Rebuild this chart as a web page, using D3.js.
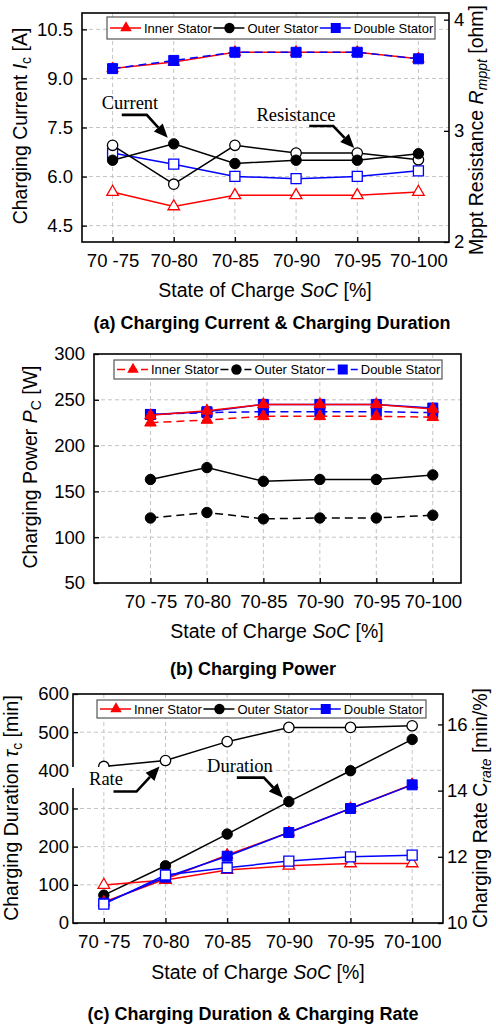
<!DOCTYPE html>
<html>
<head>
<meta charset="utf-8">
<script src="https://cdn.jsdelivr.net/npm/d3@7"></script>
<style>
body { margin: 0; background: #fff; }
text { font-family: "Liberation Sans", Arial, sans-serif; fill: #000; }
.serif { font-family: "Liberation Serif", "Times New Roman", serif; }
</style>
</head>
<body>
<script>
var soc = ["70 -75", "70-80", "70-85", "70-90", "70-95", "70-100"];

// (a) charging current [A] (left) and mppt resistance [ohm] (right)
var currentInner  = [9.3, 9.5, 9.8, 9.8, 9.8, 9.6];
var currentOuter  = [6.5, 7.0, 6.4, 6.5, 6.5, 6.7];
var currentDouble = [9.3, 9.55, 9.8, 9.8, 9.8, 9.6];
var resInner  = [2.45, 2.32, 2.42, 2.42, 2.42, 2.45];
var resOuter  = [2.87, 2.52, 2.87, 2.80, 2.80, 2.74];
var resDouble = [2.80, 2.70, 2.59, 2.57, 2.59, 2.64];

// (b) charging power [W], solid and dashed sets
var powerInnerSolid  = [233, 238, 245, 245, 245, 240];
var powerInnerDash   = [225, 228, 232, 232, 232, 231];
var powerOuterSolid  = [163, 176, 161, 163, 163, 168];
var powerOuterDash   = [121, 127, 120, 121, 121, 124];
var powerDoubleSolid = [234, 237, 245, 245, 245, 241];
var powerDoubleDash  = [234, 236, 237, 237, 237, 236];

// (c) charging duration [min] (left) and charging rate [min/%] (right)
var durInner  = [55, 115, 178, 237, 300, 363];
var durOuter  = [73, 150, 233, 318, 399, 481];
var durDouble = [52, 120, 175, 237, 300, 362];
var rateInner  = [11.15, 11.3, 11.6, 11.73, 11.8, 11.8];
var rateOuter  = [14.73, 14.91, 15.48, 15.91, 15.91, 15.96];
var rateDouble = [10.57, 11.45, 11.67, 11.87, 12.0, 12.05];

var ticksA = [4.5, 6.0, 7.5, 9.0, 10.5], ticksA2 = [2, 3, 4];
var ticksB = [50, 100, 150, 200, 250, 300];
var ticksC = [0, 100, 200, 300, 400, 500, 600], ticksC2 = [10, 12, 14, 16];

var RED = "#ff0000", BLUE = "#0000ff", BLACK = "#000";
var legendNames = ["Inner Stator", "Outer Stator", "Double Stator"];

var svg = d3.select("body").append("svg")
    .attr("width", 496)
    .attr("height", 1027);

function makePanel(box, x, y, yTicks, yFmt, padL) {
    var g = svg.append("g");
    var grid = g.append("g");
    // vertical grid
    grid.selectAll(".vg").data(soc).enter().append("line")
        .attr("x1", d => x(d)).attr("x2", d => x(d))
        .attr("y1", box.top).attr("y2", box.bottom)
        .attr("stroke", "#c4c4c4").attr("stroke-dasharray", "4,3");
    grid.selectAll(".hg").data(yTicks.filter(t => y(t) > box.top + 1 && y(t) < box.bottom - 1))
        .enter().append("line")
        .attr("x1", box.left).attr("x2", box.right)
        .attr("y1", d => y(d)).attr("y2", d => y(d))
        .attr("stroke", "#c4c4c4").attr("stroke-dasharray", "4,3");

    var axes = svg.append("g").attr("class", "axes");
    axes.append("g")
        .attr("transform", "translate(" + box.left + ",0)")
        .call(d3.axisLeft(y).tickValues(yTicks).tickFormat(yFmt).tickSize(-5).tickPadding(padL));
    axes.append("g")
        .attr("transform", "translate(0," + box.bottom + ")")
        .call(d3.axisBottom(x).tickSize(-5).tickPadding(12));
    axes.append("rect")
        .attr("x", box.left).attr("y", box.top)
        .attr("width", box.right - box.left).attr("height", box.bottom - box.top)
        .attr("fill", "none").attr("stroke", "#000").attr("stroke-width", 1.6);
    return { g: g.append("g"), axes: axes };
}

function styleAxes(sel) {
    sel.selectAll(".domain").remove();
    sel.selectAll(".tick line").attr("stroke", "#000").attr("stroke-width", 1.3);
    sel.selectAll(".tick text").style("font-size", "18.5px").attr("fill", "#000")
        .style("font-family", "'Liberation Sans', Arial, sans-serif");
}

function symbolPath(shape) {
    if (shape == "tri") return d3.symbol(d3.symbolTriangle, 58)();
    if (shape == "sq") return d3.symbol(d3.symbolSquare, 100)();
    return d3.symbol(d3.symbolCircle, 85)();
}

function series(g, x, yScale, vals, color, dash, shape, filled) {
    var line = d3.line()
        .x((d, i) => x(soc[i]))
        .y(d => yScale(d));
    g.append("path")
        .datum(vals)
        .attr("d", line)
        .attr("fill", "none")
        .attr("stroke", color)
        .attr("stroke-width", 1.5)
        .attr("stroke-dasharray", dash ? "8,5" : null);
    g.selectAll(null).data(vals).enter().append("path")
        .attr("d", symbolPath(shape))
        .attr("transform", (d, i) => "translate(" + x(soc[i]) + "," + yScale(d) + ")")
        .attr("fill", filled ? color : "#fff")
        .attr("stroke", color)
        .attr("stroke-width", filled ? 1 : 1.3);
}

function legend(box, dash) {
    var lg = svg.append("g");
    lg.append("rect")
        .attr("x", box.x).attr("y", box.y)
        .attr("width", box.w).attr("height", box.h)
        .attr("fill", "#fff").attr("stroke", "#555").attr("stroke-width", 1.2);
    var cols = [RED, BLACK, BLUE], shapes = ["tri", "circ", "sq"];
    var cx = box.x + 3, cy = box.y + box.h / 2;
    legendNames.forEach(function (name, i) {
        lg.append("line")
            .attr("x1", cx).attr("x2", cx + 31)
            .attr("y1", cy).attr("y2", cy)
            .attr("stroke", cols[i]).attr("stroke-width", 1.5)
            .attr("stroke-dasharray", dash ? "8,4" : null);
        lg.append("path")
            .attr("d", symbolPath(shapes[i]))
            .attr("transform", "translate(" + (cx + 16) + "," + cy + ")")
            .attr("fill", cols[i]);
        var t = lg.append("text")
            .attr("x", cx + 34).attr("y", cy + 4.6)
            .style("font-size", "13px")
            .text(name);
        cx = cx + 34 + t.node().getComputedTextLength() + 1.5;
    });
}

function arrow(px, py, offs) {
    var pts = offs.map(o => [px + o[0], py + o[1]]);
    var n = pts.length, tip = pts[n - 1], prev = pts[n - 2];
    var dx = tip[0] - prev[0], dy = tip[1] - prev[1];
    var len = Math.sqrt(dx * dx + dy * dy), ux = dx / len, uy = dy / len;
    var hl = 14, hw = 6;
    var base = [tip[0] - ux * hl, tip[1] - uy * hl];
    var linePts = pts.slice(0, n - 1).concat([base]);
    svg.append("path")
        .attr("d", d3.line()(linePts))
        .attr("fill", "none").attr("stroke", "#000").attr("stroke-width", 2.6);
    svg.append("path")
        .attr("d", d3.line()([tip, [base[0] - uy * hw, base[1] + ux * hw], [base[0] + uy * hw, base[1] - ux * hw]]) + "Z")
        .attr("fill", "#000");
}

function yTitle(cx, cy, parts) {
    var t = svg.append("text")
        .attr("transform", "translate(" + cx + "," + cy + ") rotate(-90)")
        .attr("text-anchor", "middle")
        .style("font-size", "19.5px");
    parts.forEach(function (p) {
        var s = t.append("tspan").text(p.t);
        if (p.i) s.style("font-style", "italic");
        if (p.sub) s.attr("dy", 4).style("font-size", "14px");
        if (p.up) s.attr("dy", -4);
    });
    return t;
}

function xTitle(cx, y) {
    var t = svg.append("text").attr("x", cx).attr("y", y)
        .attr("text-anchor", "middle").style("font-size", "19.5px");
    t.append("tspan").text("State of Charge ");
    t.append("tspan").style("font-style", "italic").text("SoC");
    t.append("tspan").text(" [%]");
}

function caption(cx, y, s) {
    svg.append("text").attr("x", cx).attr("y", y)
        .attr("text-anchor", "middle")
        .style("font-size", "18px").style("font-weight", "bold")
        .text(s);
}

// ---------------- (a) ----------------
var boxA = { left: 82, right: 449, top: 13, bottom: 242 };
var xA = d3.scalePoint().domain(soc).range([boxA.left, boxA.right]).padding(0.5);
var yA = d3.scaleLinear().domain([4, 11]).range([boxA.bottom, boxA.top]);
var yA2 = d3.scaleLinear().domain([2, 4.06]).range([boxA.bottom, boxA.top]);
var pA = makePanel(boxA, xA, yA, ticksA, d3.format(".1f"), 9);
pA.axes.append("g")
    .attr("transform", "translate(" + boxA.right + ",0)")
    .call(d3.axisRight(yA2).tickValues(ticksA2).tickFormat(d3.format("d")).tickSize(-5).tickPadding(5));
styleAxes(pA.axes);

series(pA.g, xA, yA2, resInner, RED, false, "tri", false);
series(pA.g, xA, yA2, resDouble, BLUE, false, "sq", false);
series(pA.g, xA, yA2, resOuter, BLACK, false, "circ", false);
series(pA.g, xA, yA, currentOuter, BLACK, false, "circ", true);
series(pA.g, xA, yA, currentInner, RED, false, "tri", true);
series(pA.g, xA, yA, currentDouble, BLUE, true, "sq", true);
legend({ x: 107, y: 17, w: 328, h: 22 }, false);

svg.append("text").attr("class", "serif").attr("x", 130).attr("y", 109)
    .attr("text-anchor", "middle").style("font-size", "18.5px").text("Current");
arrow(xA("70-80"), yA(currentOuter[1]), [[-52, -29], [-27, -29], [-6, -6]]);
svg.append("text").attr("class", "serif").attr("x", 296).attr("y", 121)
    .attr("text-anchor", "middle").style("font-size", "18.5px").text("Resistance");
arrow(xA("70-95"), yA2(resOuter[4]), [[-48, -27], [-24, -27], [-3, -5]]);

yTitle(27, 126, [{ t: "Charging Current " }, { t: "I", i: true }, { t: "c", sub: true }, { t: " [A]", up: true }]);
yTitle(483, 130, [{ t: "Mppt Resistance " }, { t: "R", i: true }, { t: "mppt", i: true, sub: true }, { t: " [ohm]", up: true }]);
xTitle(265, 297);
caption(272, 329, "(a) Charging Current & Charging Duration");

// ---------------- (b) ----------------
var boxB = { left: 94, right: 461, top: 354, bottom: 583 };
var stepB = (boxB.right - boxB.left) / 6.5;
var xB = d3.scalePoint().domain(soc).range([boxB.left + stepB, boxB.right - stepB / 2]);
var yB = d3.scaleLinear().domain([50, 300]).range([boxB.bottom, boxB.top]);
var pB = makePanel(boxB, xB, yB, ticksB, d3.format("d"), 9);
styleAxes(pB.axes);

series(pB.g, xB, yB, powerOuterDash, BLACK, true, "circ", true);
series(pB.g, xB, yB, powerOuterSolid, BLACK, false, "circ", true);
series(pB.g, xB, yB, powerDoubleSolid, BLUE, false, "sq", true);
series(pB.g, xB, yB, powerDoubleDash, BLUE, true, "sq", true);
series(pB.g, xB, yB, powerInnerDash, RED, true, "tri", true);
series(pB.g, xB, yB, powerInnerSolid, RED, false, "tri", true);
legend({ x: 114, y: 360, w: 328, h: 19 }, true);

yTitle(37, 467, [{ t: "Charging Power " }, { t: "P", i: true }, { t: "C", sub: true }, { t: " [W]", up: true }]);
xTitle(277, 638);
caption(253, 675, "(b) Charging Power");

// ---------------- (c) ----------------
var boxC = { left: 73, right: 443, top: 694, bottom: 923 };
var xC = d3.scalePoint().domain(soc).range([boxC.left, boxC.right]).padding(0.5);
var yC = d3.scaleLinear().domain([0, 600]).range([boxC.bottom, boxC.top]);
var yC2 = d3.scaleLinear().domain([10, 16.92]).range([boxC.bottom, boxC.top]);
var pC = makePanel(boxC, xC, yC, ticksC, d3.format("d"), 4);
pC.axes.append("g")
    .attr("transform", "translate(" + boxC.right + ",0)")
    .call(d3.axisRight(yC2).tickValues(ticksC2).tickFormat(d3.format("d")).tickSize(-5).tickPadding(4));
styleAxes(pC.axes);

series(pC.g, xC, yC, durOuter, BLACK, false, "circ", true);
series(pC.g, xC, yC2, rateOuter, BLACK, false, "circ", false);
series(pC.g, xC, yC2, rateInner, RED, false, "tri", false);
series(pC.g, xC, yC, durInner, RED, false, "tri", true);
series(pC.g, xC, yC, durDouble, BLUE, false, "sq", true);
series(pC.g, xC, yC2, rateDouble, BLUE, false, "sq", false);
legend({ x: 97, y: 700, w: 329, h: 18 }, false);

svg.append("rect").attr("x", 71).attr("y", 767).attr("width", 54).attr("height", 21).attr("fill", "#fff");
svg.append("text").attr("class", "serif").attr("x", 106).attr("y", 785)
    .attr("text-anchor", "middle").style("font-size", "18.5px").text("Rate");
arrow(xC("70-80"), yC2(rateOuter[1]), [[-52, 31], [-29, 31], [-6, 6]]);
svg.append("text").attr("class", "serif").attr("x", 240).attr("y", 772)
    .attr("text-anchor", "middle").style("font-size", "18.5px").text("Duration");
arrow(xC("70-90"), yC(durOuter[3]), [[-52, -24], [-25, -24], [-6, -4]]);

yTitle(18, 808, [{ t: "Charging Duration " }, { t: "τ", i: true }, { t: "c", sub: true }, { t: " [min]", up: true }]);
yTitle(487, 808, [{ t: "Charging Rate C" }, { t: "rate", i: true, sub: true }, { t: " [min/%]", up: true }]);
xTitle(258, 979);
caption(253, 1020, "(c) Charging Duration & Charging Rate");
</script>
</body>
</html>
